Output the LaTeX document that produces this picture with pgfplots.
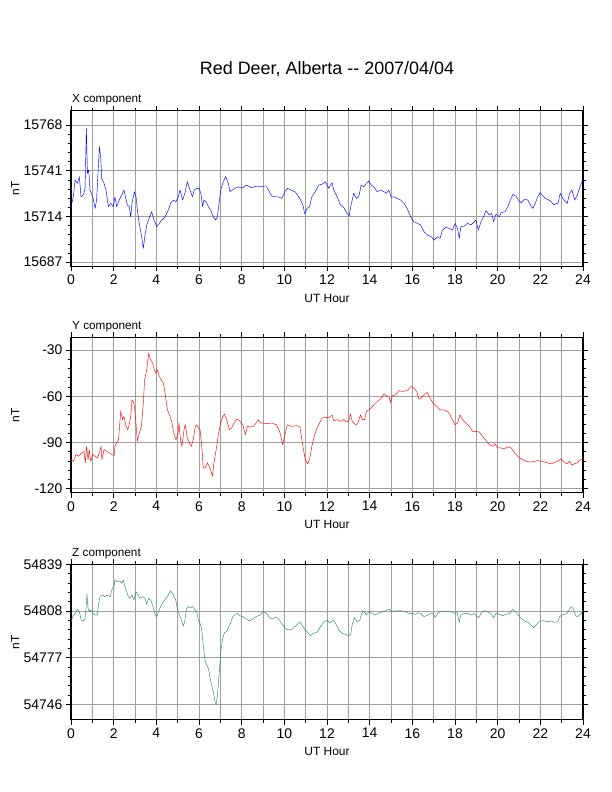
\documentclass[border=0pt]{standalone}
\usepackage{fontspec}
\setmainfont{Liberation Sans}
\usepackage{pgfplots}
\pgfplotsset{compat=1.18}
\definecolor{zgreen}{RGB}{46,139,87}
\pgfplotsset{geo/.style={
  width=512bp, height=155.5bp, scale only axis, anchor=north west,
  xmin=0, xmax=24,
  xtick={0,2,...,24}, minor xtick={1,3,...,23},
  xmajorgrids, xminorgrids, ymajorgrids,
  major grid style={gray!75, line width=0.6bp},
  minor grid style={gray!75, line width=0.6bp},
  tick align=outside,
  major tick length=5bp, minor tick length=3bp,
  tick style={black, line width=0.6bp},
  minor y tick num=4,
  axis line style={line width=1.3bp},
  ticklabel style={font=\fontsize{14}{14}\selectfont},
  /pgf/number format/assume math mode=true,
  /pgf/number format/set thousands separator={},
  scaled y ticks=false,
  xlabel={UT Hour},
  xlabel style={at={(axis description cs:0.5,-0.205)}, anchor=center, font=\fontsize{12}{12}\selectfont},
  ylabel={nT},
  ylabel style={at={(axis description cs:-0.109,0.5)}, anchor=center, rotate=0, font=\fontsize{12}{12}\selectfont},
  title style={at={(axis description cs:0,1.045)}, anchor=base west, inner sep=0pt, xshift=1bp, yshift=-5bp, font=\fontsize{11.8}{12}\selectfont},
  every axis plot/.append style={line width=0.45bp, line join=round},
}}
\begin{document}
\begin{tikzpicture}
\useasboundingbox (0,0) rectangle (612bp,792bp);
\node[font=\fontsize{18}{18}\selectfont] at (327bp,723bp) {Red Deer, Alberta {-}{-} 2007/04/04};

\begin{axis}[geo, at={(71bp,681.3bp)}, title={X component},
  ymin=15684.6, ymax=15776.4, ytick={15687,15714,15741,15768}]
\addplot[blue, no markers] coordinates {
(0.00,15719.7)(0.11,15725.6)(0.19,15735.5)(0.30,15733.5)(0.39,15737.5)(0.47,15725.6)(0.58,15726.6)(0.66,15730.6)(0.72,15766.0)(0.77,15739.4)(0.83,15741.4)(0.89,15729.6)(1.02,15725.6)(1.13,15718.7)(1.20,15723.7)(1.33,15755.2)(1.39,15749.3)(1.44,15736.5)(1.55,15733.5)(1.64,15729.6)(1.75,15719.7)(1.86,15721.7)(1.98,15719.7)(2.06,15725.6)(2.14,15719.7)(2.23,15722.7)(2.33,15725.6)(2.42,15727.6)(2.48,15729.6)(2.55,15725.6)(2.64,15720.7)(2.73,15719.7)(2.80,15713.8)(2.86,15721.7)(2.97,15728.6)(3.05,15725.6)(3.11,15717.7)(3.20,15709.9)(3.31,15702.0)(3.39,15695.1)(3.47,15703.0)(3.55,15708.9)(3.66,15712.8)(3.78,15716.8)(3.89,15711.8)(4.02,15707.9)(4.14,15709.9)(4.25,15711.8)(4.41,15713.8)(4.56,15717.7)(4.67,15721.7)(4.80,15723.7)(4.92,15722.7)(5.03,15725.6)(5.11,15729.6)(5.23,15723.7)(5.34,15727.6)(5.45,15734.5)(5.58,15729.6)(5.69,15725.6)(5.78,15729.6)(5.89,15730.6)(6.00,15730.6)(6.09,15727.6)(6.17,15719.7)(6.23,15723.7)(6.33,15722.7)(6.44,15719.7)(6.55,15717.7)(6.67,15713.8)(6.78,15711.8)(6.86,15713.8)(6.94,15721.7)(7.02,15729.6)(7.11,15733.5)(7.25,15737.5)(7.38,15733.5)(7.45,15728.6)(7.56,15729.6)(7.69,15730.6)(7.84,15731.5)(8.00,15730.6)(8.23,15732.5)(8.47,15730.9)(8.70,15731.9)(9.02,15731.5)(9.17,15731.5)(9.30,15728.6)(9.41,15726.0)(9.56,15725.6)(9.72,15725.6)(9.88,15724.6)(10.03,15728.6)(10.14,15730.6)(10.30,15729.6)(10.50,15728.6)(10.73,15724.6)(10.87,15720.7)(10.96,15715.4)(11.06,15718.7)(11.18,15719.7)(11.29,15725.6)(11.45,15728.6)(11.61,15732.5)(11.76,15732.9)(11.92,15734.5)(12.08,15730.6)(12.24,15733.9)(12.31,15729.6)(12.47,15725.6)(12.63,15720.7)(12.78,15719.3)(12.94,15715.8)(13.04,15714.4)(13.13,15720.7)(13.25,15727.6)(13.38,15724.6)(13.49,15725.6)(13.60,15732.5)(13.73,15731.5)(13.84,15733.5)(13.96,15734.9)(14.07,15732.5)(14.20,15731.5)(14.35,15728.6)(14.51,15729.6)(14.67,15728.6)(14.79,15727.6)(14.90,15729.6)(15.01,15725.2)(15.14,15725.6)(15.29,15724.6)(15.45,15723.7)(15.61,15721.7)(15.76,15718.7)(15.92,15713.8)(16.08,15710.8)(16.24,15709.9)(16.39,15708.9)(16.55,15704.9)(16.71,15703.0)(16.89,15702.0)(17.02,15700.0)(17.18,15702.0)(17.30,15701.0)(17.41,15705.9)(17.57,15707.5)(17.73,15706.9)(17.88,15705.9)(18.01,15709.9)(18.12,15706.9)(18.20,15701.0)(18.27,15707.9)(18.43,15708.3)(18.59,15709.9)(18.75,15708.9)(18.90,15710.8)(18.98,15711.8)(19.09,15705.9)(19.22,15710.8)(19.34,15713.8)(19.45,15717.3)(19.61,15714.8)(19.72,15715.8)(19.81,15710.8)(19.92,15715.4)(20.08,15713.8)(20.16,15716.2)(20.35,15716.8)(20.47,15719.7)(20.60,15723.7)(20.71,15727.0)(20.86,15726.0)(20.97,15723.7)(21.10,15722.1)(21.25,15724.0)(21.41,15723.7)(21.54,15720.7)(21.65,15718.7)(21.76,15721.7)(21.88,15725.6)(21.99,15728.0)(22.12,15726.0)(22.24,15724.6)(22.38,15723.7)(22.51,15722.7)(22.64,15720.7)(22.75,15721.7)(22.82,15721.3)(22.93,15727.6)(23.06,15724.6)(23.17,15722.7)(23.26,15721.7)(23.37,15727.6)(23.48,15729.6)(23.61,15723.7)(23.73,15726.6)(23.84,15730.6)(23.92,15733.5)(24.00,15735.5)
};
\end{axis}

\begin{axis}[geo, at={(71bp,454.7bp)}, title={Y component},
  ymin=-122.6, ymax=-21.8, ytick={-120,-90,-60,-30}]
\addplot[red, no markers] coordinates {
(0.00,-101.1)(0.11,-102.2)(0.23,-97.8)(0.36,-98.9)(0.50,-96.8)(0.61,-95.7)(0.67,-103.2)(0.73,-92.5)(0.80,-101.1)(0.86,-94.6)(0.92,-102.2)(1.02,-97.8)(1.13,-98.9)(1.23,-100.0)(1.33,-96.8)(1.41,-92.5)(1.45,-101.1)(1.55,-94.6)(1.67,-95.7)(1.80,-96.8)(1.91,-97.8)(2.02,-98.5)(2.06,-92.5)(2.14,-90.3)(2.23,-88.2)(2.33,-69.8)(2.42,-75.2)(2.48,-73.1)(2.58,-79.5)(2.66,-81.7)(2.73,-78.5)(2.80,-73.1)(2.86,-62.3)(2.95,-64.5)(3.02,-73.1)(3.11,-89.2)(3.20,-83.8)(3.30,-79.5)(3.39,-64.5)(3.45,-49.4)(3.55,-42.9)(3.64,-32.2)(3.73,-36.5)(3.83,-38.6)(3.91,-42.9)(3.98,-45.1)(4.05,-42.9)(4.14,-47.2)(4.23,-49.4)(4.33,-51.5)(4.41,-58.0)(4.52,-68.8)(4.64,-73.1)(4.72,-76.3)(4.80,-82.8)(4.92,-88.2)(5.02,-83.8)(5.06,-77.4)(5.13,-88.2)(5.20,-92.5)(5.30,-81.7)(5.36,-78.5)(5.45,-87.1)(5.55,-90.3)(5.64,-92.5)(5.73,-88.2)(5.83,-79.5)(5.89,-78.5)(5.98,-80.6)(6.05,-81.7)(6.13,-92.5)(6.20,-106.5)(6.30,-106.5)(6.39,-103.2)(6.48,-105.4)(6.56,-108.6)(6.63,-111.8)(6.70,-103.2)(6.83,-92.5)(6.92,-83.8)(7.02,-77.4)(7.11,-73.5)(7.19,-71.6)(7.30,-75.2)(7.42,-81.7)(7.53,-80.6)(7.64,-77.4)(7.77,-74.8)(7.89,-75.7)(8.05,-78.5)(8.17,-84.9)(8.27,-79.5)(8.39,-80.0)(8.55,-79.5)(8.67,-77.4)(8.78,-75.2)(8.89,-77.4)(9.02,-77.4)(9.17,-77.8)(9.41,-77.4)(9.64,-78.5)(9.80,-83.8)(9.92,-91.4)(10.03,-84.9)(10.14,-78.5)(10.34,-79.5)(10.58,-79.1)(10.73,-80.0)(10.87,-92.5)(10.98,-101.1)(11.09,-103.7)(11.18,-101.1)(11.29,-92.5)(11.40,-86.0)(11.53,-80.6)(11.65,-77.4)(11.76,-74.2)(11.92,-73.5)(12.03,-74.2)(12.16,-73.1)(12.24,-72.0)(12.31,-75.9)(12.47,-75.2)(12.63,-76.3)(12.78,-75.2)(12.94,-76.7)(13.04,-75.2)(13.10,-71.6)(13.18,-76.3)(13.33,-78.5)(13.44,-77.8)(13.57,-72.0)(13.65,-75.2)(13.76,-75.2)(13.85,-69.8)(13.96,-68.8)(14.07,-67.7)(14.20,-65.5)(14.35,-63.4)(14.51,-61.9)(14.67,-58.4)(14.79,-59.7)(14.90,-60.2)(14.98,-64.0)(15.06,-59.7)(15.22,-59.1)(15.37,-56.3)(15.53,-56.9)(15.69,-56.5)(15.80,-55.9)(15.92,-53.7)(16.08,-54.8)(16.20,-56.9)(16.31,-61.9)(16.42,-61.2)(16.55,-59.1)(16.71,-57.6)(16.83,-61.2)(16.99,-64.9)(17.15,-66.6)(17.30,-68.8)(17.46,-68.8)(17.65,-69.8)(17.77,-72.0)(17.88,-75.2)(17.99,-78.5)(18.12,-77.4)(18.23,-72.0)(18.35,-75.2)(18.51,-77.4)(18.67,-79.5)(18.82,-82.8)(18.98,-82.8)(19.14,-83.2)(19.29,-86.0)(19.45,-88.6)(19.61,-91.4)(19.76,-92.5)(19.87,-90.7)(20.00,-93.5)(20.16,-93.5)(20.31,-94.2)(20.47,-92.9)(20.63,-93.5)(20.78,-96.3)(20.94,-98.9)(21.10,-100.6)(21.25,-101.7)(21.41,-102.6)(21.57,-102.6)(21.73,-102.2)(21.88,-101.7)(22.04,-102.2)(22.20,-102.6)(22.35,-103.2)(22.51,-103.9)(22.67,-102.8)(22.82,-102.2)(22.98,-100.6)(23.14,-103.2)(23.25,-103.7)(23.37,-102.2)(23.48,-104.7)(23.61,-103.7)(23.73,-103.2)(23.84,-101.5)(24.00,-100.6)
};
\end{axis}

\begin{axis}[geo, at={(71bp,227.7bp)}, title={Z component},
  ymin=54735.8, ymax=54839, ytick={54746,54777,54808,54839}]
\addplot[zgreen, no markers] coordinates {
(0.00,54800.9)(0.08,54804.2)(0.19,54806.4)(0.30,54809.1)(0.39,54807.6)(0.48,54802.0)(0.58,54801.4)(0.66,54803.1)(0.70,54808.7)(0.75,54819.1)(0.80,54809.8)(0.86,54807.6)(0.92,54808.7)(1.02,54806.4)(1.13,54805.3)(1.23,54805.3)(1.30,54813.1)(1.36,54817.5)(1.48,54818.6)(1.59,54817.5)(1.70,54818.6)(1.83,54817.5)(1.94,54823.1)(2.02,54824.2)(2.06,54828.6)(2.17,54827.5)(2.30,54827.9)(2.38,54826.4)(2.45,54828.6)(2.53,54824.2)(2.61,54820.8)(2.69,54817.5)(2.77,54816.4)(2.86,54818.6)(2.95,54815.3)(3.05,54820.8)(3.14,54818.6)(3.23,54816.4)(3.36,54817.5)(3.47,54816.4)(3.55,54812.4)(3.64,54816.4)(3.73,54815.3)(3.83,54812.0)(3.92,54806.4)(4.02,54804.2)(4.11,54807.6)(4.20,54810.9)(4.33,54814.2)(4.45,54816.4)(4.56,54818.6)(4.67,54821.3)(4.80,54818.6)(4.91,54815.3)(4.98,54809.8)(5.08,54805.3)(5.19,54801.4)(5.27,54798.0)(5.34,54802.0)(5.42,54809.8)(5.50,54810.9)(5.61,54810.2)(5.70,54810.9)(5.81,54808.7)(5.89,54807.6)(5.97,54802.0)(6.05,54799.8)(6.13,54795.4)(6.20,54785.4)(6.28,54775.5)(6.36,54772.1)(6.44,54769.9)(6.52,54763.3)(6.59,54758.8)(6.67,54754.4)(6.75,54747.8)(6.80,54746.0)(6.86,54751.1)(6.94,54765.5)(7.02,54781.0)(7.11,54789.8)(7.20,54793.8)(7.30,54794.3)(7.39,54797.6)(7.48,54799.8)(7.58,54804.2)(7.69,54805.8)(7.80,54806.4)(7.92,54804.9)(8.05,54804.2)(8.20,54802.7)(8.36,54801.4)(8.52,54802.7)(8.67,54804.2)(8.86,54805.3)(9.02,54807.6)(9.17,54806.4)(9.36,54802.7)(9.48,54803.1)(9.61,54804.2)(9.77,54802.0)(9.92,54798.7)(10.08,54796.0)(10.27,54795.4)(10.42,54796.5)(10.58,54798.7)(10.73,54800.9)(10.90,54796.9)(11.06,54794.3)(11.22,54791.6)(11.37,54793.2)(11.53,54793.8)(11.69,54797.6)(11.84,54800.5)(12.00,54802.0)(12.13,54800.2)(12.24,54801.4)(12.31,54802.0)(12.44,54798.7)(12.55,54795.4)(12.71,54793.2)(12.86,54792.5)(13.02,54791.6)(13.10,54792.1)(13.18,54798.7)(13.29,54803.6)(13.41,54800.9)(13.54,54802.0)(13.62,54806.4)(13.73,54808.0)(13.84,54805.3)(13.96,54807.6)(14.09,54806.4)(14.23,54805.3)(14.38,54806.4)(14.54,54807.1)(14.75,54808.0)(14.90,54809.3)(15.06,54807.6)(15.22,54808.0)(15.45,54808.2)(15.69,54807.6)(15.84,54806.4)(16.00,54806.4)(16.16,54805.8)(16.27,54806.9)(16.39,54806.4)(16.55,54804.2)(16.71,54805.3)(16.86,54806.4)(16.99,54806.4)(17.07,54803.6)(17.18,54806.4)(17.33,54807.6)(17.57,54808.0)(17.80,54807.6)(17.96,54806.4)(18.09,54807.6)(18.20,54800.5)(18.27,54805.3)(18.43,54806.4)(18.59,54806.4)(18.75,54805.3)(18.87,54806.4)(18.98,54805.3)(19.11,54803.6)(19.22,54806.4)(19.37,54808.2)(19.53,54807.6)(19.69,54806.0)(19.81,54803.6)(19.92,54806.4)(20.08,54805.8)(20.24,54804.9)(20.39,54805.8)(20.55,54806.4)(20.71,54809.1)(20.83,54807.6)(20.97,54805.3)(21.10,54803.1)(21.25,54801.4)(21.41,54800.5)(21.57,54798.7)(21.69,54796.9)(21.80,54798.7)(21.93,54800.9)(22.04,54801.4)(22.20,54801.4)(22.35,54800.9)(22.51,54801.4)(22.67,54800.5)(22.82,54800.9)(22.90,54804.2)(23.01,54805.3)(23.14,54805.8)(23.26,54806.4)(23.37,54809.3)(23.45,54810.9)(23.53,54809.8)(23.64,54805.3)(23.73,54804.2)(23.84,54805.3)(23.92,54806.4)(24.00,54808.7)
};
\end{axis}
\end{tikzpicture}
\end{document}
